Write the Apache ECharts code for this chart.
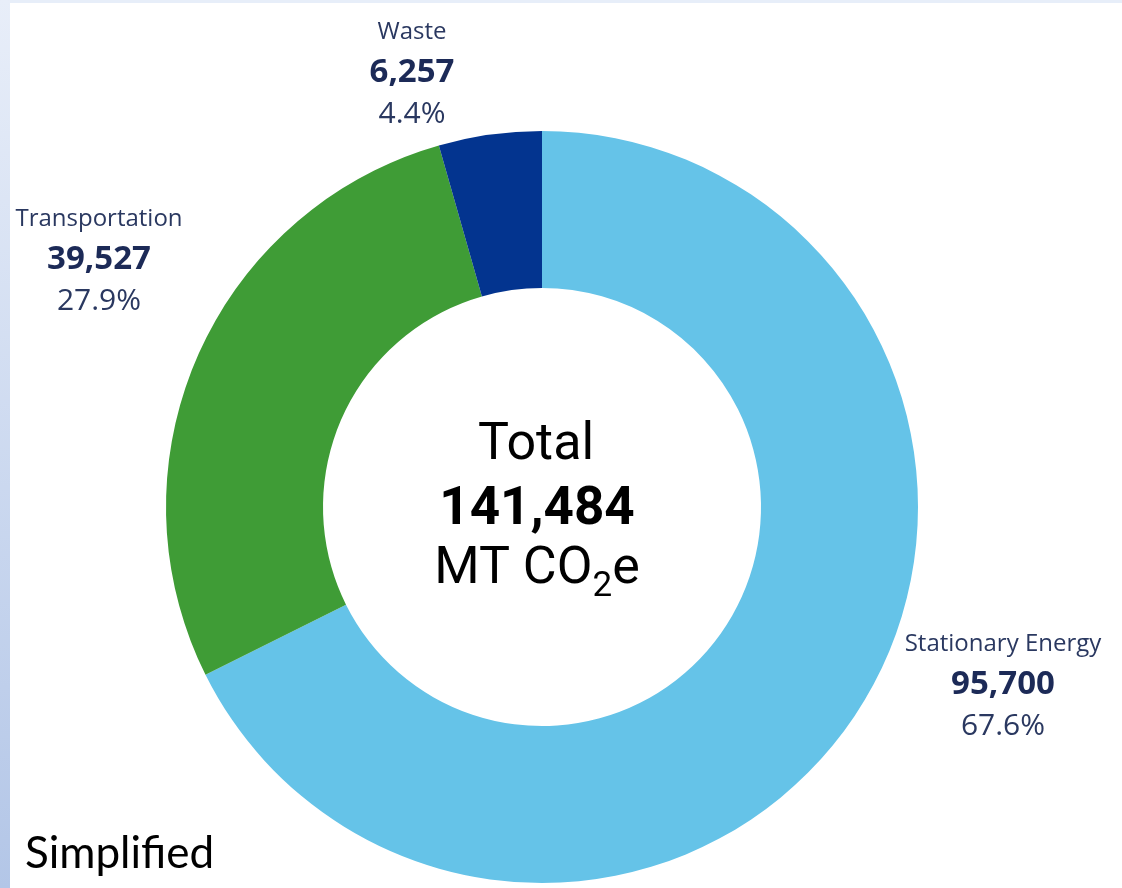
<!DOCTYPE html>
<html>
<head>
<meta charset="utf-8">
<script src="https://cdn.jsdelivr.net/npm/echarts@6/dist/echarts.min.js"></script>
<style>
  html, body { margin: 0; padding: 0; background: #ffffff; }
  #chart { width: 1122px; height: 888px; }
</style>
</head>
<body>
<div id="chart"></div>
<script>
// ---- data ----
var categories = ['Stationary Energy', 'Transportation', 'Waste'];
var values = [95700, 39527, 6257];
var colors = ['#65C3E8', '#3F9C36', '#03348F'];
var centerTitle = 'Total';
var centerUnit = 'MT CO';
var footnote = 'Simplified';

var total = values.reduce(function (a, b) { return a + b; }, 0);
function fmt(n) { return n.toLocaleString('en-US'); }

// label anchor points (label layout only)
var labelAnchors = [[1003, 685], [99, 260], [412, 73]];

var chart = echarts.init(document.getElementById('chart'), null, { renderer: 'canvas' });

var option = {
  animation: false,
  backgroundColor: '#ffffff',
  graphic: [
    { type: 'rect', shape: { x: 0, y: 0, width: 1122, height: 3 }, style: { fill: '#E7EEF9' }, silent: true },
    { type: 'rect', shape: { x: 0, y: 0, width: 10, height: 888 }, silent: true,
      style: { fill: new echarts.graphic.LinearGradient(0, 0, 0, 1, [
        { offset: 0, color: '#E8EEF9' }, { offset: 1, color: '#B3C6E7' }]) } },
    { type: 'text', left: 25, top: 832, silent: true,
      style: { text: footnote, fontFamily: 'Lato', fontSize: 44, fill: '#000000' } },
    { type: 'text', x: 536, y: 446, silent: true,
      style: { text: centerTitle, fontFamily: 'Roboto', fontSize: 52, fill: '#000000',
               align: 'center', verticalAlign: 'middle' } },
    { type: 'text', x: 537, y: 511, silent: true,
      style: { text: fmt(total), fontFamily: 'Roboto', fontWeight: 'bold', fontSize: 53, fill: '#000000',
               align: 'center', verticalAlign: 'middle' } },
    { type: 'text', x: 537, y: 570, silent: true,
      style: { text: '{m|' + centerUnit + '}{s|2}{m|e}', align: 'center', verticalAlign: 'middle',
               rich: {
                 m: { fontFamily: 'Roboto', fontSize: 52, lineHeight: 70, fill: '#000000', color: '#000000' },
                 s: { fontFamily: 'Roboto', fontSize: 35, lineHeight: 35, verticalAlign: 'bottom', fill: '#000000', color: '#000000' }
               } } }
  ],
  series: [{
    type: 'pie',
    center: [542, 507],
    radius: [219, 376],
    startAngle: 90,
    clockwise: true,
    silent: true,
    avoidLabelOverlap: false,
    itemStyle: { borderWidth: 0 },
    emphasis: { disabled: true },
    labelLine: { show: false },
    label: {
      show: true,
      position: 'outside',
      formatter: function (p) {
        return '{n|' + p.name + '}\n{v|' + fmt(p.value) + '}\n{p|' + p.percent.toFixed(1) + '%}';
      },
      rich: {
        n: { fontFamily: 'Open Sans', fontSize: 24, color: '#2A3860', lineHeight: 41, align: 'center' },
        v: { fontFamily: 'Open Sans', fontSize: 33, fontWeight: 'bold', color: '#1C2A57', lineHeight: 41, align: 'center' },
        p: { fontFamily: 'Open Sans', fontSize: 30, color: '#2A3860', lineHeight: 41, align: 'center' }
      }
    },
    labelLayout: function (params) {
      var a = labelAnchors[params.dataIndex];
      return { x: a[0], y: a[1], align: 'center', verticalAlign: 'middle' };
    },
    data: categories.map(function (c, i) {
      return { name: c, value: values[i], itemStyle: { color: colors[i] } };
    })
  }]
};
chart.setOption(option);
</script>
</body>
</html>
